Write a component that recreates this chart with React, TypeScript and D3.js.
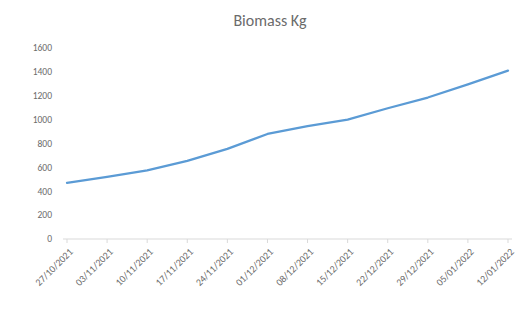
import React from 'react';
import * as d3 from 'd3';

const dates = [
  '27/10/2021', '03/11/2021', '10/11/2021', '17/11/2021', '24/11/2021', '01/12/2021',
  '08/12/2021', '15/12/2021', '22/12/2021', '29/12/2021', '05/01/2022', '12/01/2022',
];
const biomass = [470, 520, 575, 655, 755, 880, 945, 1000, 1095, 1185, 1295, 1410];
const yTicks = [0, 200, 400, 600, 800, 1000, 1200, 1400, 1600];

const W = 518;
const H = 309;
const margin = { top: 48, right: 10, bottom: 70, left: 67 };
const fontFamily = 'Carlito, "Open Sans", "Liberation Sans", sans-serif';

const App: React.FC = () => {
  const x = d3.scalePoint<string>()
    .domain(dates)
    .range([margin.left, W - margin.right]);

  const y = d3.scaleLinear()
    .domain([0, 1600])
    .range([H - margin.bottom, margin.top]);

  const line = d3.line<number>()
    .x((_, i) => x(dates[i]) || 0)
    .y(d => y(d));

  const baseY = y(0);

  return (
    <svg width={W} height={H} style={{ position: 'absolute', left: 0, top: 0, background: '#fff' }}>
      <text x={270} y={26} textAnchor="middle" fontSize={16} fill="#6b6b6b" fontFamily={fontFamily}>
        Biomass Kg
      </text>

      {/* y axis labels */}
      {yTicks.map(t => (
        <text key={t} x={52} y={y(t)} dy="0.35em" textAnchor="end" fontSize={9.5} fill="#6b6b6b" fontFamily={fontFamily}>
          {t}
        </text>
      ))}

      {/* x axis */}
      <line x1={63} x2={W - 6} y1={baseY} y2={baseY} stroke="#d9d9d9" strokeWidth={1} />
      {dates.map(d => (
        <line key={d} x1={x(d)} x2={x(d)} y1={baseY} y2={baseY + 4} stroke="#d9d9d9" strokeWidth={1} />
      ))}
      {dates.map(d => (
        <text
          key={d}
          transform={`translate(${(x(d) || 0) + 4},${baseY + 11}) rotate(-45)`}
          textAnchor="end"
          dy="0.35em"
          fontSize={10}
          fill="#6b6b6b"
          fontFamily={fontFamily}
        >
          {d}
        </text>
      ))}

      <path d={line(biomass) || ''} fill="none" stroke="#5b9bd5" strokeWidth={2.25} strokeLinejoin="round" strokeLinecap="round" />
    </svg>
  );
};

export default App;
